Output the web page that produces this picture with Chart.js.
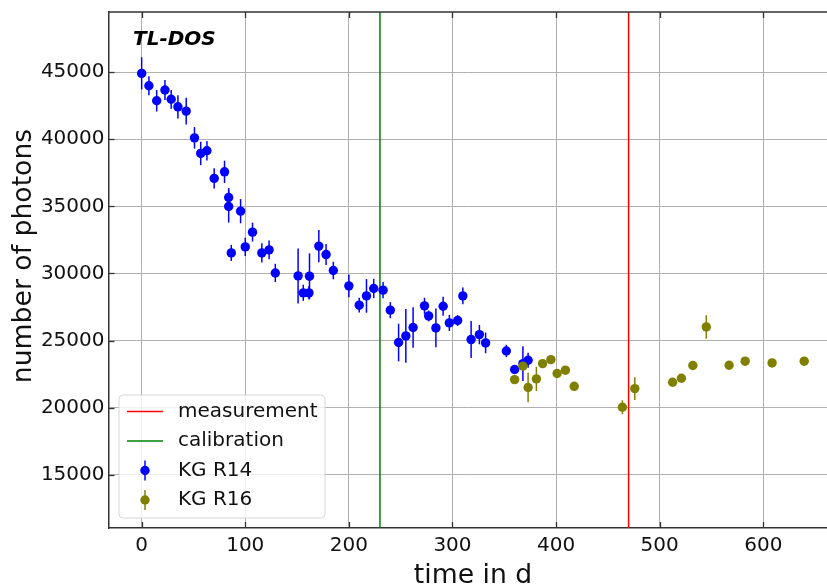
<!DOCTYPE html>
<html>
<head>
<meta charset="utf-8">
<title>TL-DOS</title>
<script src="https://cdn.jsdelivr.net/npm/chart.js@4.4.0/dist/chart.umd.min.js"></script>
<style>
    html, body { margin: 0; padding: 0; background: #fff; overflow: hidden; }
    canvas { display: block; }
</style>
</head>
<body>
<canvas id="chart" width="827" height="584"></canvas>
<script>
// KG R14 readings: day, photon count, error (one sigma)
var r14Days = [0, 7, 14.5, 22.5, 28.5, 35, 43, 51, 57, 63, 70, 80, 84, 84, 86.5, 95.5, 100, 107, 116, 123, 129,
    151, 156, 161.5, 162, 171, 178, 185, 200, 210, 217, 224, 233, 240, 248, 255, 262, 273, 277, 284, 291,
    297, 305, 310, 318, 326, 332, 352, 360, 368, 373];
var r14Photons = [44900, 43980, 42860, 43660, 42970, 42410, 42090, 40100, 38940, 39140, 37080, 37570, 35660, 34990,
    31530, 34640, 31980, 33080, 31530, 31760, 30040, 29820, 28560, 28560, 29800, 32040, 31410, 30220, 29080,
    27640, 28330, 28880, 28760, 27270, 24860, 25350, 25980, 27590, 26840, 25950, 27560, 26320, 26500, 28330,
    25080, 25450, 24830, 24230, 22850, 23290, 23540];
var r14Errors = [1200, 700, 800, 750, 700, 870, 1000, 800, 870, 720, 750, 830, 700, 1200, 600, 900, 680, 700, 720,
    700, 680, 2050, 600, 500, 1700, 1200, 780, 650, 850, 550, 1250, 720, 600, 600, 1400, 2000, 1500, 600, 400,
    1450, 700, 600, 400, 620, 1380, 720, 770, 460, 300, 1300, 550];

// KG R16 readings
var r16Days = [360, 368, 373, 381, 387, 395, 401, 409, 417.5, 464, 476, 512.5, 521, 532, 545, 567, 582.5, 608.5, 639.5];
var r16Photons = [22100, 23100, 21510, 22150, 23290, 23590, 22550, 22800, 21600, 20040, 21430, 21900, 22200, 23150,
    26020, 23170, 23470, 23340, 23470];
var r16Errors = [300, 300, 1100, 900, 250, 250, 250, 250, 250, 520, 850, 250, 250, 250, 870, 250, 250, 250, 250];

var measurementDay = 470;
var calibrationDay = 230;

var xTicks = [0, 100, 200, 300, 400, 500, 600];
var yTicks = [15000, 20000, 25000, 30000, 35000, 40000, 45000];
var xMin = -32, xMax = 661.5;
var yMin = 11050, yMax = 49470;

(function () {
    var font = 'DejaVu Sans';
    var ink = '#111111';
    var spine = '#333333';

    Chart.defaults.animation = false;
    Chart.defaults.font.family = font;
    Chart.defaults.font.size = 20;
    Chart.defaults.color = ink;

    function points(days, values) {
        return days.map(function (d, i) { return { x: d, y: values[i] }; });
    }

    function vline(day) {
        return [{ x: day, y: yMin }, { x: day, y: yMax }];
    }

    // matplotlib-ish decorations: error bars, inward ticks, top spine, labels, legend
    var decor = {
        id: 'decor',
        beforeDatasetDraw: function (chart, args) {
            var ds = chart.data.datasets[args.index];
            if (!ds.errors) return;
            var xs = chart.scales.x, ys = chart.scales.y, ctx = chart.ctx;
            ctx.save();
            ctx.strokeStyle = ds.backgroundColor;
            ctx.lineWidth = 1.5;
            ds.data.forEach(function (p, i) {
                var px = xs.getPixelForValue(p.x);
                ctx.beginPath();
                ctx.moveTo(px, ys.getPixelForValue(p.y - ds.errors[i]));
                ctx.lineTo(px, ys.getPixelForValue(p.y + ds.errors[i]));
                ctx.stroke();
            });
            ctx.restore();
        },
        afterDraw: function (chart) {
            var ctx = chart.ctx, ca = chart.chartArea;
            var xs = chart.scales.x, ys = chart.scales.y;
            ctx.save();

            // top spine
            ctx.strokeStyle = spine;
            ctx.lineWidth = 1.5;
            ctx.beginPath();
            ctx.moveTo(ca.left, ca.top);
            ctx.lineTo(ca.right, ca.top);
            ctx.stroke();

            // inward ticks
            ctx.lineWidth = 1.3;
            xTicks.forEach(function (v) {
                var px = Math.round(xs.getPixelForValue(v)) + 0.5;
                ctx.beginPath();
                ctx.moveTo(px, ca.bottom); ctx.lineTo(px, ca.bottom - 6);
                ctx.moveTo(px, ca.top); ctx.lineTo(px, ca.top + 6);
                ctx.stroke();
            });
            yTicks.forEach(function (v) {
                var py = Math.round(ys.getPixelForValue(v)) + 0.5;
                ctx.beginPath();
                ctx.moveTo(ca.left, py); ctx.lineTo(ca.left + 6, py);
                ctx.stroke();
            });

            // panel title
            ctx.fillStyle = '#000';
            ctx.font = 'italic bold 20px "' + font + '"';
            ctx.textAlign = 'left';
            ctx.textBaseline = 'alphabetic';
            ctx.fillText('TL-DOS', ca.left + 24.5, ca.top + 33);

            // axis titles
            ctx.fillStyle = ink;
            ctx.font = '26.67px "' + font + '"';
            ctx.textAlign = 'center';
            ctx.fillText('time in d', 473, chart.height - 1);
            ctx.save();
            ctx.translate(24, 256);
            ctx.rotate(-Math.PI / 2);
            ctx.textBaseline = 'middle';
            ctx.fillText('number of photons', 0, 0);
            ctx.restore();

            // legend, lower left inside the axes
            var bx = ca.left + 10.5, bw = 206, bh = 123, by = ca.bottom - 10 - bh;
            ctx.fillStyle = 'rgba(255,255,255,0.8)';
            ctx.strokeStyle = '#d6d6d6';
            ctx.lineWidth = 1;
            ctx.beginPath();
            ctx.roundRect(bx, by, bw, bh, 4);
            ctx.fill();
            ctx.stroke();

            ctx.font = '20px "' + font + '"';
            ctx.textAlign = 'left';
            ctx.textBaseline = 'middle';
            chart.data.datasets.forEach(function (ds, i) {
                var cy = by + 16.5 + i * 29.5;
                var hx0 = bx + 8, hx1 = bx + 44, hmid = (hx0 + hx1) / 2;
                if (ds.errors) {
                    ctx.strokeStyle = ds.backgroundColor;
                    ctx.lineWidth = 1.5;
                    ctx.beginPath();
                    ctx.moveTo(hmid, cy - 10); ctx.lineTo(hmid, cy + 10);
                    ctx.stroke();
                    ctx.fillStyle = ds.backgroundColor;
                    ctx.beginPath();
                    ctx.arc(hmid, cy, 4.7, 0, Math.PI * 2);
                    ctx.fill();
                } else {
                    ctx.strokeStyle = ds.borderColor;
                    ctx.lineWidth = 1.5;
                    ctx.beginPath();
                    ctx.moveTo(hx0, cy); ctx.lineTo(hx1, cy);
                    ctx.stroke();
                }
                ctx.fillStyle = ink;
                ctx.fillText(ds.label, bx + 59, cy);
            });

            ctx.restore();
        }
    };

    function fixTicks(list) {
        return function (scale) {
            scale.ticks = list.map(function (v) { return { value: v }; });
        };
    }

    // the axes frame is placed by hand, so drop the label overhang padding Chart.js adds
    function noOverhang(scale) {
        scale.paddingTop = 0;
        scale.paddingBottom = 0;
        scale.paddingLeft = 0;
        scale.paddingRight = 0;
    }

    new Chart(document.getElementById('chart'), {
        type: 'scatter',
        data: {
            datasets: [
                { label: 'measurement', data: vline(measurementDay), showLine: true, borderColor: '#ff0000',
                  borderWidth: 1.5, pointRadius: 0, order: 4 },
                { label: 'calibration', data: vline(calibrationDay), showLine: true, borderColor: '#008000',
                  borderWidth: 1.5, pointRadius: 0, order: 3 },
                { label: 'KG R14', data: points(r14Days, r14Photons), errors: r14Errors, backgroundColor: '#0000ff',
                  borderWidth: 0, pointRadius: 4.7, order: 2 },
                { label: 'KG R16', data: points(r16Days, r16Photons), errors: r16Errors, backgroundColor: '#808000',
                  borderWidth: 0, pointRadius: 4.7, order: 1 }
            ]
        },
        options: {
            responsive: false,
            devicePixelRatio: 1,
            events: [],
            layout: { autoPadding: false, padding: { top: 12, right: 0, bottom: 0, left: 0 } },
            plugins: { legend: { display: false }, tooltip: { enabled: false } },
            scales: {
                x: {
                    type: 'linear', min: xMin, max: xMax,
                    afterBuildTicks: fixTicks(xTicks),
                    afterFit: function (s) { s.height = 56; noOverhang(s); },
                    grid: { color: '#b0b0b0', lineWidth: 1, drawTicks: false },
                    border: { display: true, color: spine, width: 1.5 },
                    ticks: { padding: 6, maxRotation: 0, callback: function (v) { return String(v); } }
                },
                y: {
                    type: 'linear', min: yMin, max: yMax,
                    afterBuildTicks: fixTicks(yTicks),
                    afterFit: function (s) { s.width = 108.5; noOverhang(s); },
                    grid: { color: '#b0b0b0', lineWidth: 1, drawTicks: false },
                    border: { display: true, color: spine, width: 1.5 },
                    ticks: { padding: 4, callback: function (v) { return String(v); } }
                }
            }
        },
        plugins: [decor]
    });
})();
</script>
</body>
</html>
